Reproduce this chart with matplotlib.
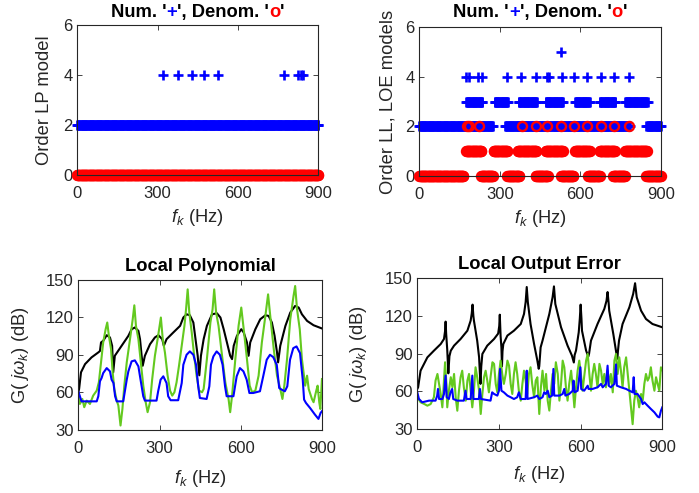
import numpy as np
import matplotlib
matplotlib.use('Agg')
import matplotlib.pyplot as plt

plt.rcParams['font.family'] = ['Liberation Sans', 'DejaVu Sans']
plt.rcParams['mathtext.fontset'] = 'custom'
plt.rcParams['mathtext.rm'] = 'Liberation Sans'
plt.rcParams['mathtext.it'] = 'Liberation Sans:italic'
plt.rcParams['mathtext.bf'] = 'Liberation Sans:bold'

GREEN = '#63c91f'
DARK = '0.15'
TICK_FS = 12
LABEL_FS = 13.2

# ---- top-left: LP model orders (frequency runs / single points) ----
lp_num2_runs = [(0, 900)]
lp_num4_freqs = [320, 376, 429, 472, 526, 772, 825, 834, 842]
lp_den0_runs = [(0, 900)]

# ---- top-right: LL / LOE model orders ----
ll_num2_runs = [(0, 275), (320, 785), (845, 900)]
ll_num3_runs = [(174, 234), (279, 331), (369, 438), (470, 535), (579, 635), (672, 730), (766, 850)]
ll_num4_freqs = [172, 186, 218, 232, 326, 379, 435, 474, 481, 531, 576, 625, 675, 725, 781]
ll_num5_freqs = [529]
ll_den0_runs = [(0, 165), (230, 275), (328, 372), (433, 478), (527, 575), (628, 673), (721, 766), (845, 900)]
ll_den1_runs = [(174, 230), (275, 328), (365, 436), (470, 534), (579, 635), (672, 728), (766, 848)]
ll_den2_freqs = [176, 186, 220, 381, 435, 476, 527, 577, 625, 675, 725, 782]

# ---- bottom-left: Local Polynomial (Hz, dB) ----
lp_black = [(0, 60), (3, 62.5), (10, 75.9), (25, 82.5), (49, 87.9), (74, 91.9), (80, 93), (84, 99.9),
            (92, 101.2), (105, 105.7), (117, 103.9), (125, 97.2), (129, 75.9), (135, 89.2), (160, 97.2),
            (185, 105.2), (197, 110.5), (209, 111.9), (222, 109.2), (228, 102.5), (234, 89.2), (238, 81.2),
            (246, 89.2), (265, 98.5), (283, 103.9), (296, 105.7), (310, 102.5), (316, 97.2), (326, 102.5),
            (351, 107.9), (376, 113.2), (388, 119.9), (400, 122.5), (412, 121.7), (425, 115.9), (433, 102.5),
            (441, 89.2), (447, 73.5), (453, 89.2), (463, 102.5), (475, 113.2), (494, 122.5), (512, 123.3),
            (525, 119.9), (537, 110.5), (549, 99.9), (561, 89.2), (568, 86.5), (574, 97.2), (586, 105.2),
            (602, 110.5), (611, 107.9), (623, 99.9), (629, 89.2), (635, 99.9), (654, 110.5), (672, 118.5),
            (691, 121.7), (703, 121.2), (715, 115.9), (725, 105.2), (734, 91.9), (738, 83.9), (746, 97.2),
            (765, 113.2), (783, 123.9), (801, 129.2), (814, 127.9), (826, 122.5), (845, 117.2), (869, 113.7),
            (900, 111.1)]
lp_green = [(0, 56), (3, 57.2), (6, 50.5), (15, 54.5), (22, 47.9), (31, 53.2), (43, 50.5), (55, 57.2),
            (68, 61.2), (76, 67.9), (84, 83.9), (92, 99.9), (101, 110.5), (107, 115.9), (113, 105.2),
            (121, 94.5), (127, 75.9), (133, 62.5), (142, 53.2), (148, 49.2), (156, 33.2), (163, 46.5),
            (170, 65.2), (179, 83.9), (191, 102.5), (201, 118.5), (207, 129.7), (213, 113.2), (222, 102.5),
            (231, 83.9), (240, 65.2), (249, 51.9), (256, 43.9), (265, 51.9), (273, 70.5), (283, 89.2),
            (293, 102.5), (305, 119.9), (312, 102.5), (320, 91.9), (330, 73.2), (339, 61.2), (347, 57.2),
            (355, 59.9), (363, 67.9), (372, 81.2), (382, 97.2), (392, 113.2), (398, 126.5), (404, 142.5),
            (410, 123.9), (419, 107.9), (428, 89.2), (437, 73.2), (446, 61.2), (457, 59.9), (463, 62.5),
            (475, 86.5), (488, 115.9), (496, 126.5), (502, 142.5), (509, 123.9), (518, 113.2), (531, 89.2),
            (543, 67.9), (555, 54.5), (561, 43.9), (568, 57.2), (580, 86.5), (592, 113.2), (602, 127.9),
            (611, 110.5), (623, 86.5), (633, 65.2), (642, 59.9), (654, 61.2), (666, 73.2), (678, 99.9),
            (691, 121.2), (701, 138.5), (709, 121.2), (722, 94.5), (734, 73.2), (746, 62.5), (754, 54.5),
            (761, 65.2), (771, 86.5), (783, 118.5), (795, 137.2), (801, 145.2), (808, 126.5), (818, 110.5),
            (826, 86.5), (832, 75.9), (838, 65.2), (845, 73.2), (851, 62.5), (863, 54.5), (869, 51.9),
            (879, 61.2), (884, 65.2), (890, 51.9), (894, 46.5), (900, 70.5)]
lp_blue = [(0, 60.7), (12, 52.6), (68, 52.6), (74, 56.7), (80, 68.7), (86, 71.3), (92, 75.3), (105, 79.3),
           (117, 76.7), (123, 70), (130, 67.3), (136, 56.7), (142, 52.6), (166, 52.6), (179, 70), (185, 76.7),
           (197, 84.7), (209, 85.5), (222, 80.7), (228, 72.6), (240, 56.7), (246, 53.2), (289, 53.2),
           (295, 60.7), (304, 70), (314, 72.7), (326, 67.3), (332, 56.7), (341, 53.5), (369, 53.5), (382, 67.3),
           (388, 82), (400, 90), (412, 92.7), (425, 90), (435, 82), (443, 64.7), (449, 55.3), (474, 54.5),
           (484, 64.7), (490, 82), (499, 88.7), (511, 92.7), (523, 90), (533, 82), (542, 64.7), (548, 56.7),
           (573, 56.7), (585, 72.7), (597, 79.3), (610, 76.7), (622, 70), (632, 59.3), (646, 59.3),
           (671, 60.7), (683, 72.7), (696, 86), (708, 90), (720, 88.1), (733, 82), (742, 63.3), (751, 62),
           (763, 60.7), (772, 64.7), (782, 86), (794, 95.3), (806, 96.7), (819, 91.3), (829, 70), (834, 54),
           (841, 51.3), (856, 47.3), (874, 42), (887, 38.5), (895, 43.3), (900, 44.7)]

# ---- bottom-right: Local Output Error (Hz, dB) ----
loe_black = [(0, 62), (3, 63.3), (12, 76.5), (37, 87.1), (61, 92.4), (86, 97.7), (98, 101.7), (102, 108),
             (104, 115.5), (106, 106), (110, 93), (114, 74.4), (118, 88), (123, 92.4), (135, 96.4),
             (159, 101.7), (184, 108.3), (196, 116.3), (200, 122), (203, 129), (206, 120), (208, 116.3),
             (220, 100.4), (227, 87.1), (230, 73.9), (232, 66), (235, 80), (239, 89.8), (257, 96.4),
             (282, 101.7), (297, 106), (301, 112), (303, 121), (306, 104), (309, 95), (311, 80), (313, 92),
             (316, 97.7), (331, 104.4), (355, 108.3), (380, 113.6), (392, 121.6), (398, 131), (402, 143),
             (406, 131), (416, 113.6), (429, 97.7), (441, 84.5), (446, 78), (448, 80), (453, 95), (460, 100.4),
             (485, 121.6), (497, 134.9), (502, 143.5), (507, 129.5), (528, 111), (552, 96.4), (568, 88.5),
             (575, 83), (578, 89), (583, 92.5), (593, 107), (597, 118), (600, 129), (603, 118), (605, 108.3),
             (620, 92.5), (628, 87.7), (631, 90), (638, 100.4), (662, 113.6), (687, 125.6), (695, 132),
             (699, 139), (703, 130), (705, 124.2), (720, 105.7), (730, 92), (735, 86), (737, 92), (741, 100.4),
             (754, 113.6), (779, 126.9), (793, 137.5), (800, 146), (806, 134.9), (822, 124.2), (840, 117.6),
             (864, 113.6), (900, 111)]
loe_green = [(0, 55.4), (12, 51.4), (25, 50.1), (37, 48.7), (49, 50), (61, 55.4), (67, 68.6), (74, 73.9),
             (80, 66), (86, 58), (92, 47.4), (98, 68.6), (102, 83.2), (107, 66), (110, 47.4), (116, 60.6),
             (123, 71.3), (129, 63.3), (135, 73.9), (141, 55.4), (147, 44.7), (153, 60.6), (159, 71.3),
             (165, 76.5), (171, 63.3), (178, 52.7), (184, 68.6), (190, 73.9), (196, 60.6), (202, 47.4),
             (208, 60.6), (214, 79.2), (220, 71.3), (227, 60.6), (233, 42.1), (239, 58), (245, 71.3),
             (251, 76.5), (257, 68.6), (263, 59.3), (269, 71.3), (276, 83.2), (282, 81.9), (288, 66),
             (294, 59.3), (300, 73.9), (306, 84.5), (312, 73.9), (318, 66), (325, 73.9), (331, 84.5),
             (337, 80.5), (343, 66), (349, 58), (355, 73.9), (361, 83.2), (367, 73.9), (373, 60.6),
             (380, 52.7), (386, 66), (392, 76.5), (398, 68.6), (404, 58), (410, 73.9), (416, 79.2),
             (422, 66), (429, 55.4), (435, 68.6), (441, 71.3), (448, 42.1), (454, 63.3), (460, 76.5),
             (467, 60.6), (473, 73.9), (479, 52.7), (485, 44.8), (491, 60.6), (497, 73.9), (503, 66),
             (509, 83.2), (516, 73.9), (522, 52.7), (528, 66), (534, 84.5), (540, 79.2), (546, 63.3),
             (552, 52.7), (558, 66), (565, 76.5), (571, 63.3), (577, 47.4), (583, 63.3), (589, 76.5),
             (595, 84.5), (601, 73.9), (607, 60.6), (613, 71.3), (620, 84.5), (626, 89.8), (632, 73.9),
             (638, 60.6), (644, 73.9), (650, 81.9), (656, 73.9), (662, 63.3), (669, 81.9), (675, 76.5),
             (681, 66), (687, 73.9), (693, 63.3), (699, 76.5), (705, 66), (711, 73.9), (718, 59.3),
             (724, 84.5), (730, 89.8), (736, 73.9), (742, 87.1), (748, 76.5), (754, 63.3), (760, 79.2),
             (767, 87.1), (773, 73.9), (779, 60.6), (785, 47.4), (791, 34), (797, 52.7), (803, 60.6),
             (809, 55.4), (815, 47.4), (822, 58), (828, 52.7), (834, 66), (840, 73.9), (846, 68.6),
             (852, 71.3), (858, 79.2), (864, 68.6), (871, 60.6), (877, 71.3), (883, 66), (889, 60.6),
             (895, 79.2), (900, 77)]
loe_blue = [(0, 59.3), (6, 54), (18, 51.4), (43, 52.7), (67, 52.7), (73, 56.7), (76, 62), (80, 54), (92, 54),
            (98, 58), (104, 72.6), (108, 55.4), (116, 54), (122, 59.3), (128, 62), (132, 54), (147, 52.7),
            (171, 52.7), (177, 60.6), (181, 54), (196, 54), (202, 72.6), (206, 54), (226, 54), (230, 62),
            (234, 54), (269, 52.7), (275, 59.3), (282, 58), (294, 56.7), (300, 60.6), (304, 77.9), (309, 60.6),
            (318, 59.3), (331, 56.7), (343, 55.4), (355, 54), (367, 55.4), (373, 59.3), (380, 54), (398, 54),
            (402, 76.5), (405, 54), (429, 55.4), (441, 56.7), (448, 54), (460, 55.4), (466, 59.3), (472, 58),
            (479, 60.6), (485, 55.4), (495, 56.7), (500, 77.9), (503, 56.7), (522, 56.7), (534, 58), (540, 62),
            (544, 56.7), (558, 58), (571, 60.6), (574, 68.6), (578, 59.3), (589, 60.6), (599, 79.2),
            (602, 62), (613, 60.6), (626, 64.6), (629, 62), (644, 62), (662, 63.3), (675, 66), (681, 63.3),
            (693, 66), (699, 80.5), (703, 64.6), (711, 63.3), (724, 66), (730, 81.5), (733, 64.6), (748, 63.3),
            (767, 62), (779, 60.6), (791, 59.3), (795, 71.3), (798, 58), (809, 58), (822, 54), (828, 50),
            (834, 51.4), (846, 48.7), (858, 46.1), (871, 43.4), (883, 40), (889, 39.4), (895, 44.7), (900, 47.4)]

f_grid = np.arange(0, 901, 2.0)


def expand(runs):
    m = np.zeros(f_grid.shape, dtype=bool)
    for a, b in runs:
        m |= (f_grid >= a) & (f_grid <= b)
    return f_grid[m]


def style_axes(ax, yticks, ylim):
    ax.set_xlim(0, 900)
    ax.set_ylim(*ylim)
    ax.set_xticks([0, 300, 600, 900])
    ax.set_yticks(yticks)
    ax.tick_params(direction='in', length=3.5, width=0.6, colors=DARK, labelsize=TICK_FS,
                   top=True, right=True)
    ax.tick_params(axis='x', pad=8)
    ax.tick_params(axis='y', pad=3.5)
    for s in ax.spines.values():
        s.set_color(DARK)
        s.set_linewidth(0.8)


def colored_title(fig, parts, cx, baseline_px, size=LABEL_FS):
    texts = [fig.text(0, 0, s, color=c, fontsize=size, fontweight='bold', va='baseline',
                      transform=None) for s, c in parts]
    fig.canvas.draw()
    r = fig.canvas.get_renderer()
    widths = [t.get_window_extent(r).width for t in texts]
    x = cx - sum(widths) / 2
    H = fig.get_figheight() * fig.dpi
    for t, w in zip(texts, widths):
        t.set_position((x, H - baseline_px))
        x += w


fig = plt.figure(figsize=(6.99, 4.93), dpi=100)
ax1 = fig.add_axes([0.1106, 0.645, 0.3448, 0.3043])
ax2 = fig.add_axes([0.6001, 0.643, 0.3455, 0.3022])
ax3 = fig.add_axes([0.112, 0.1288, 0.3486, 0.3032])
ax4 = fig.add_axes([0.597, 0.1294, 0.3505, 0.3063])

plus_kw = dict(linestyle='none', marker='+', color='#0000ff', ms=6.5, mew=1.9, clip_on=False)
circ_kw = dict(linestyle='none', marker='o', color='#ff0000', mfc='none', ms=6.5, mew=1.7, clip_on=False)

# top-left
fn = expand(lp_num2_runs)
ax1.plot(fn, np.full(fn.shape, 2), **plus_kw)
ax1.plot(lp_num4_freqs, [4] * len(lp_num4_freqs), **plus_kw)
fd = expand(lp_den0_runs)
ax1.plot(fd, np.zeros(fd.shape), **circ_kw)
style_axes(ax1, [0, 2, 4, 6], (0, 6))
ax1.set_ylabel('Order LP model', fontsize=LABEL_FS, color=DARK)
ax1.set_xlabel(r'$f_k$ (Hz)', fontsize=LABEL_FS, color=DARK)
ax1.yaxis.set_label_coords(-0.10, 0.5)
ax1.xaxis.set_label_coords(0.5, -0.215)

# top-right
for runs, order in [(ll_num2_runs, 2), (ll_num3_runs, 3)]:
    fr = expand(runs)
    ax2.plot(fr, np.full(fr.shape, order), **plus_kw)
ax2.plot(ll_num4_freqs, [4] * len(ll_num4_freqs), **plus_kw)
ax2.plot(ll_num5_freqs, [5] * len(ll_num5_freqs), **plus_kw)
for runs, order in [(ll_den0_runs, 0), (ll_den1_runs, 1)]:
    fr = expand(runs)
    ax2.plot(fr, np.full(fr.shape, order), **circ_kw)
ax2.plot(ll_den2_freqs, [2] * len(ll_den2_freqs), **circ_kw)
style_axes(ax2, [0, 2, 4, 6], (0, 6))
ax2.set_ylabel('Order LL, LOE models', fontsize=LABEL_FS, color=DARK)
ax2.set_xlabel(r'$f_k$ (Hz)', fontsize=LABEL_FS, color=DARK)
ax2.yaxis.set_label_coords(-0.097, 0.5)
ax2.xaxis.set_label_coords(0.5, -0.215)

# bottom plots
for ax, blk, grn, blu, title in [(ax3, lp_black, lp_green, lp_blue, 'Local Polynomial'),
                                 (ax4, loe_black, loe_green, loe_blue, 'Local Output Error')]:
    for data, col in [(blk, 'k'), (grn, GREEN), (blu, '#0000ff')]:
        a = np.array(data)
        ax.plot(a[:, 0], a[:, 1], color=col, lw=1.5)
    style_axes(ax, [30, 60, 90, 120, 150], (30, 150))
    ax.set_ylabel(r'G( $j\omega_k$) (dB)', fontsize=LABEL_FS, color=DARK)
    ax.set_xlabel(r'$f_k$ (Hz)', fontsize=LABEL_FS, color=DARK)
    ax.text(0.5, 1.06, title, transform=ax.transAxes, ha='center', va='baseline',
            fontsize=LABEL_FS, fontweight='bold')
ax3.yaxis.set_label_coords(-0.194, 0.5)
ax3.xaxis.set_label_coords(0.5, -0.255)
ax4.yaxis.set_label_coords(-0.197, 0.5)
ax4.xaxis.set_label_coords(0.5, -0.232)

title_parts = [("Num. '", 'k'), ('+', '#0000ff'), ("', Denom. '", 'k'), ('o', '#ff0000'), ("'", 'k')]
colored_title(fig, title_parts, 197.8, 16.7)
colored_title(fig, title_parts, 540.2, 16.7)

fig.savefig('out.png', dpi=100)
